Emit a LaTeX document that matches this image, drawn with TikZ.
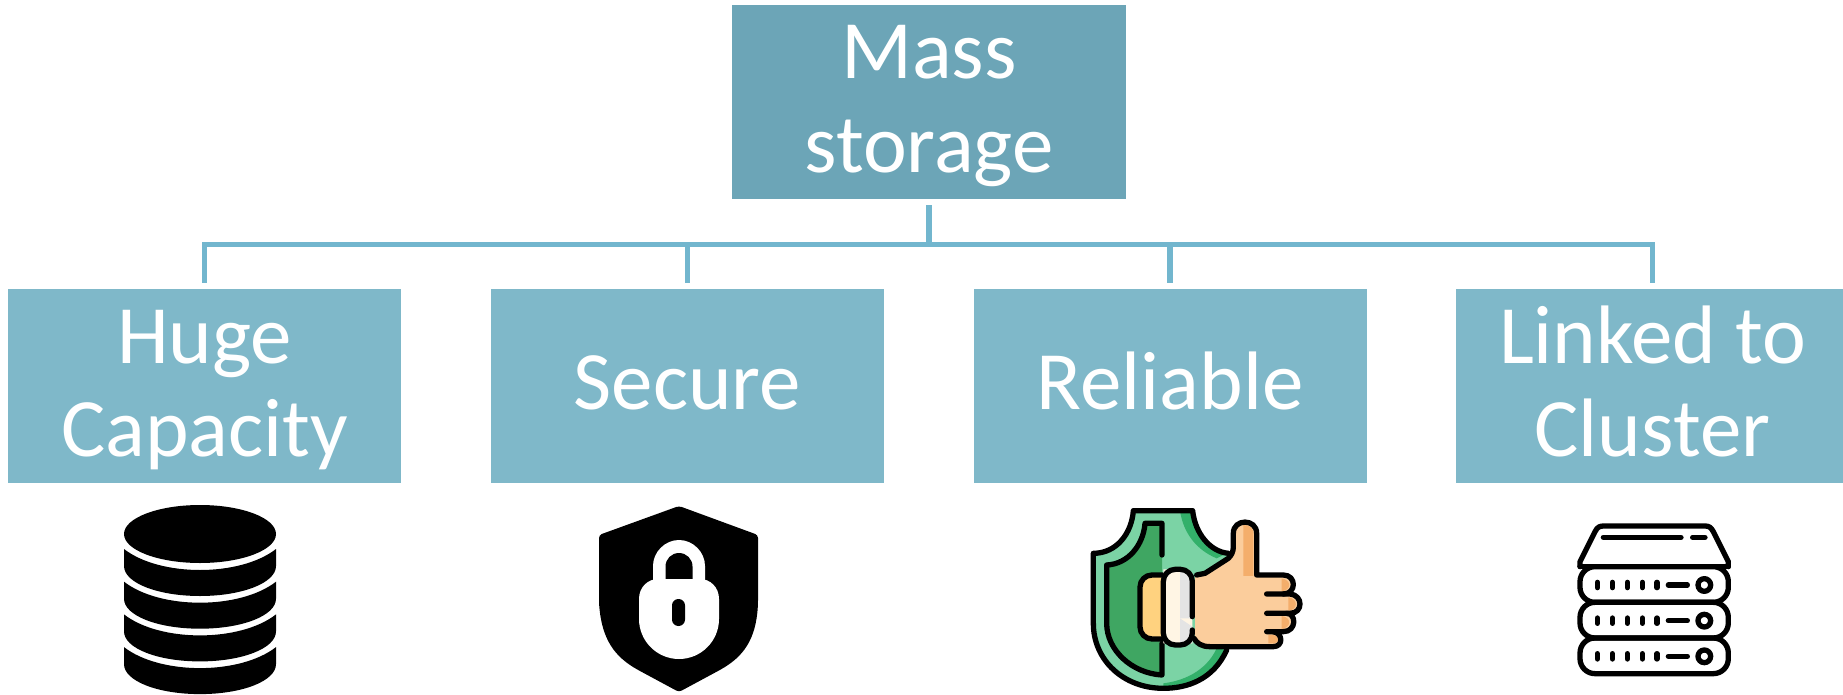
\documentclass[tikz,border=0pt]{standalone}
\usepackage{fontspec}
\setmainfont{Carlito}
\definecolor{topc}{HTML}{6CA5B7}
\definecolor{boxc}{HTML}{7FB8C9}
\definecolor{conn}{HTML}{72B6CE}
\definecolor{gl}{HTML}{7BD3A5}
\definecolor{gd}{HTML}{3FA662}
\definecolor{ge}{HTML}{33B06A}
\definecolor{sk}{HTML}{FBCD9C}
\definecolor{skd}{HTML}{F4AE6B}
\definecolor{yl}{HTML}{FFD27F}
\definecolor{cr}{HTML}{FFF5E4}
\definecolor{gy}{HTML}{E4E4E4}
\newcommand\oneline[1]{\raisebox{-23pt}[0pt][0pt]{\makebox[0pt]{#1}}}
\newcommand\twolines[2]{\raisebox{23pt}[0pt][0pt]{\makebox[0pt]{#1}}\raisebox{-70.5pt}[0pt][0pt]{\makebox[0pt]{#2}}}
\tikzset{
  bx/.style={rectangle,inner sep=0pt,text=white,font=\fontsize{83}{94}\selectfont},
  topbox/.style={bx,fill=topc,minimum width=394pt,minimum height=194pt},
  lowbox/.style={bx,fill=boxc,minimum width=393pt,minimum height=194pt},
  link/.style={draw=conn,line width=5.5pt},
  ico/.style={line width=5.3pt,line cap=round,line join=round},
  ithin/.style={draw=black,ico}
}
\begin{document}
\begin{tikzpicture}[x=1pt,y=-1pt]
\clip (0,0) rectangle (1843,695);
\useasboundingbox (0,0) rectangle (1843,695);
\fill[white] (0,0) rectangle (1843,695);
\node[topbox] (top) at (929,102) {\twolines{Mass}{storage}};
\node[lowbox] (a) at (204.5,386) {\twolines{Huge}{Capacity}};
\node[lowbox] (b) at (687.5,386) {\oneline{Secure}};
\node[lowbox] (c) at (1170,386) {\oneline{Reliable}};
\node[lowbox] (d) at (1652.5,386) {\twolines{Linked to}{Cluster}};
\coordinate (bus) at (929,244.5);
\draw[link,shorten <=6pt] (top.south) -- (bus);
\draw[link,shorten >=6pt] (bus) -| (a.north);
\draw[link,shorten >=6pt] (bus) -| (b.north);
\draw[link,shorten >=6pt] (bus) -| (c.north);
\draw[link,shorten >=6pt] (bus) -| (d.north);
% database icon
\fill[black] (200,534) ellipse [x radius=76,y radius=29];
\foreach \d in {0,32.7,65.4,98.1}{
  \fill[black] (124,{549+\d}) .. controls (160,{577+\d}) and (240,{577+\d}) .. (276,{549+\d})
    -- (276,{566+\d}) .. controls (276,{583+\d}) and (242,{596+\d}) .. (200,{596+\d})
    .. controls (158,{596+\d}) and (124,{583+\d}) .. (124,{566+\d}) -- cycle;
}
% shield and lock icon
\fill[black,rounded corners=3pt] (679,506) -- (758,535) -- (758,603)
  .. controls (756,640) and (743,657) .. (718,671) -- (679,692) -- (640,671)
  .. controls (615,657) and (602,640) .. (599,603) -- (599,535) -- cycle;
\fill[white] (653,590) -- (653,566) .. controls (653,552) and (665,540) .. (679,540)
  .. controls (693,540) and (705,552) .. (705,566) -- (705,590) -- cycle;
\fill[black] (665.5,585) -- (665.5,566.5) .. controls (665.5,559) and (671.5,553) .. (679,553)
  .. controls (686.5,553) and (692.5,559) .. (692.5,566.5) -- (692.5,585) -- cycle;
\fill[white] (639,599) .. controls (639,587) and (648,579) .. (658,579) -- (700,579)
  .. controls (710,579) and (719,587) .. (719,599) -- (719,619)
  .. controls (719,641) and (701,659) .. (679,659)
  .. controls (657,659) and (639,641) .. (639,619) -- cycle;
\fill[black,rounded corners=6.4pt] (672,599) rectangle (685,626);
% thumbs-up icon
\begin{scope}[shift={(1060,490)},x=0.3333pt,y=-0.3333pt]
  \path[fill=gl] (220,62) -- (398,62) .. controls (405,130) and (450,185) .. (515,190)
    -- (500,480) .. controls (460,570) and (380,595) .. (310,595)
    .. controls (190,595) and (100,510) .. (100,400) -- (100,190)
    .. controls (170,190) and (215,130) .. (220,62) -- cycle;
  \fill[ge] (360,62) -- (398,62) .. controls (405,130) and (450,185) .. (500,190) -- (470,205)
    .. controls (410,180) and (370,130) .. (360,62) -- cycle;
  \fill[ge] (500,480) .. controls (460,570) and (380,595) .. (310,595) -- (310,580)
    .. controls (390,570) and (445,530) .. (470,475) -- cycle;
  \fill[gd] (306,100) -- (255,100) .. controls (250,165) and (205,222) .. (140,225)
    -- (140,400) .. controls (140,480) and (215,550) .. (306,555) -- cycle;
  \draw[ithin] (306,195) -- (306,100) -- (255,100) .. controls (250,165) and (205,222) .. (140,225)
    -- (140,400) .. controls (140,480) and (215,550) .. (306,555) -- (306,460);
  \draw[ithin] (505,190) .. controls (450,185) and (405,130) .. (398,62) -- (220,62)
    .. controls (215,130) and (170,190) .. (100,190) -- (100,400)
    .. controls (100,510) and (190,595) .. (310,595) .. controls (380,595) and (460,570) .. (500,480);
  % hand
  \path[fill=sk] (405,255) -- (435,250) -- (505,205) .. controls (515,195) and (520,185) .. (520,170)
    -- (520,130) .. controls (520,85) and (590,85) .. (590,130) -- (590,255) -- (670,255)
    .. controls (710,255) and (710,310) .. (670,312) -- (690,312)
    .. controls (730,315) and (730,370) .. (690,370) -- (670,370)
    .. controls (710,370) and (710,425) .. (670,425) -- (640,425)
    .. controls (670,430) and (670,470) .. (640,470) -- (450,470)
    .. controls (425,470) and (410,460) .. (405,445) -- cycle;
  \fill[skd] (550,105) .. controls (570,105) and (580,115) .. (580,130) -- (580,258) -- (550,258) -- cycle;
  \fill[skd] (665,265) .. controls (695,270) and (695,300) .. (665,304) -- cycle;
  \fill[skd] (685,322) .. controls (715,325) and (715,360) .. (685,362) -- cycle;
  \fill[skd] (665,378) .. controls (695,382) and (695,412) .. (665,417) -- cycle;
  \fill[skd] (625,435) -- (640,435) .. controls (660,440) and (660,458) .. (640,460) -- (625,460) -- cycle;
  \draw[ithin] (410,255) -- (435,250) -- (505,205) .. controls (515,195) and (520,185) .. (520,170)
    -- (520,130) .. controls (520,85) and (590,85) .. (590,130) -- (590,255) -- (670,255)
    .. controls (710,255) and (710,312) .. (670,312) -- (620,312);
  \draw[ithin] (670,312) -- (690,312) .. controls (730,315) and (730,370) .. (690,370) -- (620,370);
  \draw[ithin] (680,370) .. controls (710,370) and (710,425) .. (670,425) -- (620,425);
  \draw[ithin] (640,425) .. controls (670,430) and (670,470) .. (640,470) -- (450,470)
    .. controls (425,470) and (410,460) .. (402,445);
  % cuff
  \path[fill=yl,draw=black,ico,rounded corners=12pt] (310,255) -- (240,255) -- (240,447) -- (310,447);
  \path[fill=cr] (310,238) -- (385,238) -- (397,250) -- (397,460) -- (310,460) -- cycle;
  \fill[gy] (360,243) -- (390,243) -- (397,250) -- (397,385) -- (360,385) -- cycle;
  \fill[gy] (360,385) -- (397,410) -- (397,460) -- (360,460) -- cycle;
  \draw[ithin,rounded corners=12pt] (397,380) -- (397,238) -- (310,238) -- (310,465) -- (397,465) -- (397,420);
\end{scope}
% server icon
\begin{scope}[shift={(1500,500)},x=0.3333pt,y=-0.3333pt]
  \draw[ithin] (240,200) -- (240,185) -- (285,95) .. controls (292,82) and (298,78) .. (310,78)
    -- (615,78) .. controls (627,78) and (633,82) .. (640,95) -- (685,185) -- (685,200);
  \draw[ithin] (240,200) -- (685,200);
  \draw[ithin] (310,112) -- (543,112);
  \draw[ithin] (578,112) -- (615,112);
  \foreach \k in {0,107,214}{
    \draw[ithin,rounded corners=15pt] (240,{200+\k}) rectangle (685,{307+\k});
    \foreach \dx in {292,337,382,427,471}{
      \draw[ithin] (\dx,{247+\k}) -- (\dx,{263+\k});
    }
    \draw[ithin] (505,{255+\k}) -- (562,{255+\k});
    \draw[ithin] (613,{255+\k}) circle [radius=19];
  }
\end{scope}
\end{tikzpicture}
\end{document}
